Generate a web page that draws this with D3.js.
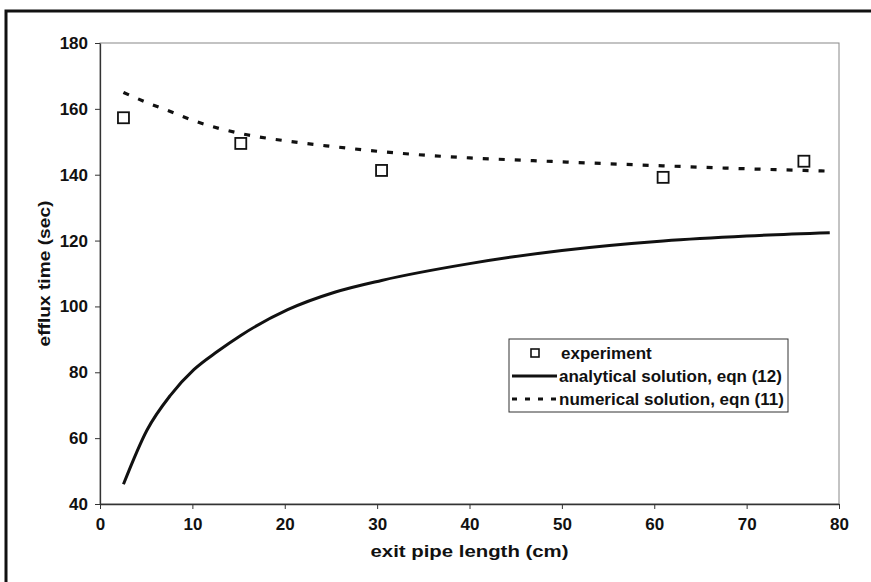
<!DOCTYPE html>
<html>
<head>
<meta charset="utf-8">
<script src="https://cdn.jsdelivr.net/npm/d3@7"></script>
<style>
  body { margin: 0; background: #fff; }
  svg { display: block; font-family: "Liberation Sans", Arial, sans-serif; font-weight: bold; }
</style>
</head>
<body>
<div id="chart"></div>
<script>
// experiment points (cm, sec)
const expX = [2.54, 15.24, 30.48, 60.96, 76.2];
const expY = [157.3, 149.5, 141.3, 139.2, 144.1];

// analytical solution, eqn (12)
const anaX = [2.54, 5.08, 7.62, 10.16, 12.7, 15.24, 20.32, 25.4, 30.48, 40, 50, 60.96, 70, 79];
const anaY = [46, 62.4, 73, 80.8, 86.3, 91.2, 99, 104.3, 107.9, 113, 117, 119.9, 121.4, 122.4];

// numerical solution, eqn (11)
const numX = [2.54, 5, 7.62, 10.16, 15.24, 20.32, 25.4, 30.48, 40, 45.72, 50, 60.96, 70, 76.2, 78.74];
const numY = [165, 162, 159.2, 156.4, 152.5, 150.2, 148.5, 147, 145.1, 144.4, 143.9, 142.7, 141.8, 141.3, 141.1];

const xTicks = [0, 10, 20, 30, 40, 50, 60, 70, 80];
const yTicks = [40, 60, 80, 100, 120, 140, 160, 180];

const legendLabels = ["experiment", "analytical solution, eqn (12)", "numerical solution, eqn (11)"];

const width = 871, height = 582;
const margin = { top: 43, right: 32, bottom: 78, left: 100 };
const innerW = width - margin.left - margin.right,
  innerH = height - margin.top - margin.bottom;

const svg = d3.select("#chart").append("svg")
  .attr("width", width)
  .attr("height", height);

// outer frame (right/bottom run off the picture)
svg.append("rect")
  .attr("x", 6).attr("y", 11)
  .attr("width", 900).attr("height", 600)
  .attr("fill", "none")
  .attr("stroke", "#111")
  .attr("stroke-width", 3);

const g = svg.append("g")
  .attr("transform", `translate(${margin.left},${margin.top})`);

const x = d3.scaleLinear().domain([0, 80]).range([0, innerW]);
const y = d3.scaleLinear().domain([40, 180]).range([innerH, 0]);

// plot area border
g.append("rect")
  .attr("width", innerW).attr("height", innerH)
  .attr("fill", "none")
  .attr("stroke", "#888")
  .attr("stroke-width", 1);

const xAxis = g.append("g")
  .attr("transform", `translate(0,${innerH})`)
  .call(d3.axisBottom(x).tickValues(xTicks).tickSize(5).tickPadding(9).tickSizeOuter(0));
const yAxis = g.append("g")
  .call(d3.axisLeft(y).tickValues(yTicks).tickSize(5).tickPadding(7).tickSizeOuter(0));

[xAxis, yAxis].forEach(a => {
  a.select(".domain").attr("stroke", "#333").attr("stroke-width", 1.3);
  a.selectAll(".tick line").attr("stroke", "#333");
  a.selectAll("text")
    .attr("fill", "#111")
    .style("font-size", "17px")
    .style("font-weight", "bold")
    .style("font-family", "'Liberation Sans', Arial, sans-serif");
});

// axis titles
svg.append("text")
  .attr("x", margin.left + innerW / 2)
  .attr("y", 557)
  .attr("text-anchor", "middle")
  .attr("fill", "#111")
  .style("font-size", "17px")
  .attr("textLength", 198)
  .attr("lengthAdjust", "spacingAndGlyphs")
  .text("exit pipe length (cm)");

svg.append("text")
  .attr("transform", `translate(50,${margin.top + innerH / 2}) rotate(-90)`)
  .attr("text-anchor", "middle")
  .attr("fill", "#111")
  .style("font-size", "17px")
  .attr("textLength", 146)
  .attr("lengthAdjust", "spacingAndGlyphs")
  .text("efflux time (sec)");

const line = d3.line()
  .x(d => x(d[0]))
  .y(d => y(d[1]))
  .curve(d3.curveMonotoneX);

g.append("path")
  .datum(anaX.map((v, i) => [v, anaY[i]]))
  .attr("d", line)
  .attr("fill", "none")
  .attr("stroke", "#111")
  .attr("stroke-width", 3);

g.append("path")
  .datum(numX.map((v, i) => [v, numY[i]]))
  .attr("d", line)
  .attr("fill", "none")
  .attr("stroke", "#111")
  .attr("stroke-width", 3.2)
  .attr("stroke-dasharray", "6,10");

const sq = 11;
g.selectAll(".exp")
  .data(expX.map((v, i) => [v, expY[i]]))
  .join("rect")
  .attr("class", "exp")
  .attr("x", d => x(d[0]) - sq / 2)
  .attr("y", d => y(d[1]) - sq / 2)
  .attr("width", sq).attr("height", sq)
  .attr("fill", "#fff")
  .attr("stroke", "#111")
  .attr("stroke-width", 1.8);

// legend
const lg = svg.append("g").attr("transform", "translate(509,339)");
lg.append("rect")
  .attr("width", 279).attr("height", 73)
  .attr("fill", "#fff")
  .attr("stroke", "#333")
  .attr("stroke-width", 1);

legendLabels.forEach((t, i) => {
  const cy = 14 + i * 23;
  const row = lg.append("g").attr("transform", `translate(0,${cy})`);
  if (i === 0) {
    row.append("rect")
      .attr("x", 22).attr("y", -4).attr("width", 8).attr("height", 8)
      .attr("fill", "#fff").attr("stroke", "#111").attr("stroke-width", 1.6);
  } else {
    row.append("line")
      .attr("x1", 3).attr("x2", 48)
      .attr("stroke", "#111").attr("stroke-width", 3)
      .attr("stroke-dasharray", i === 2 ? "5,8" : null);
  }
  row.append("text")
    .attr("x", i === 0 ? 52 : 50)
    .attr("dy", "0.36em")
    .attr("fill", "#111")
    .style("font-size", "17px")
    .text(t);
});
</script>
</body>
</html>
